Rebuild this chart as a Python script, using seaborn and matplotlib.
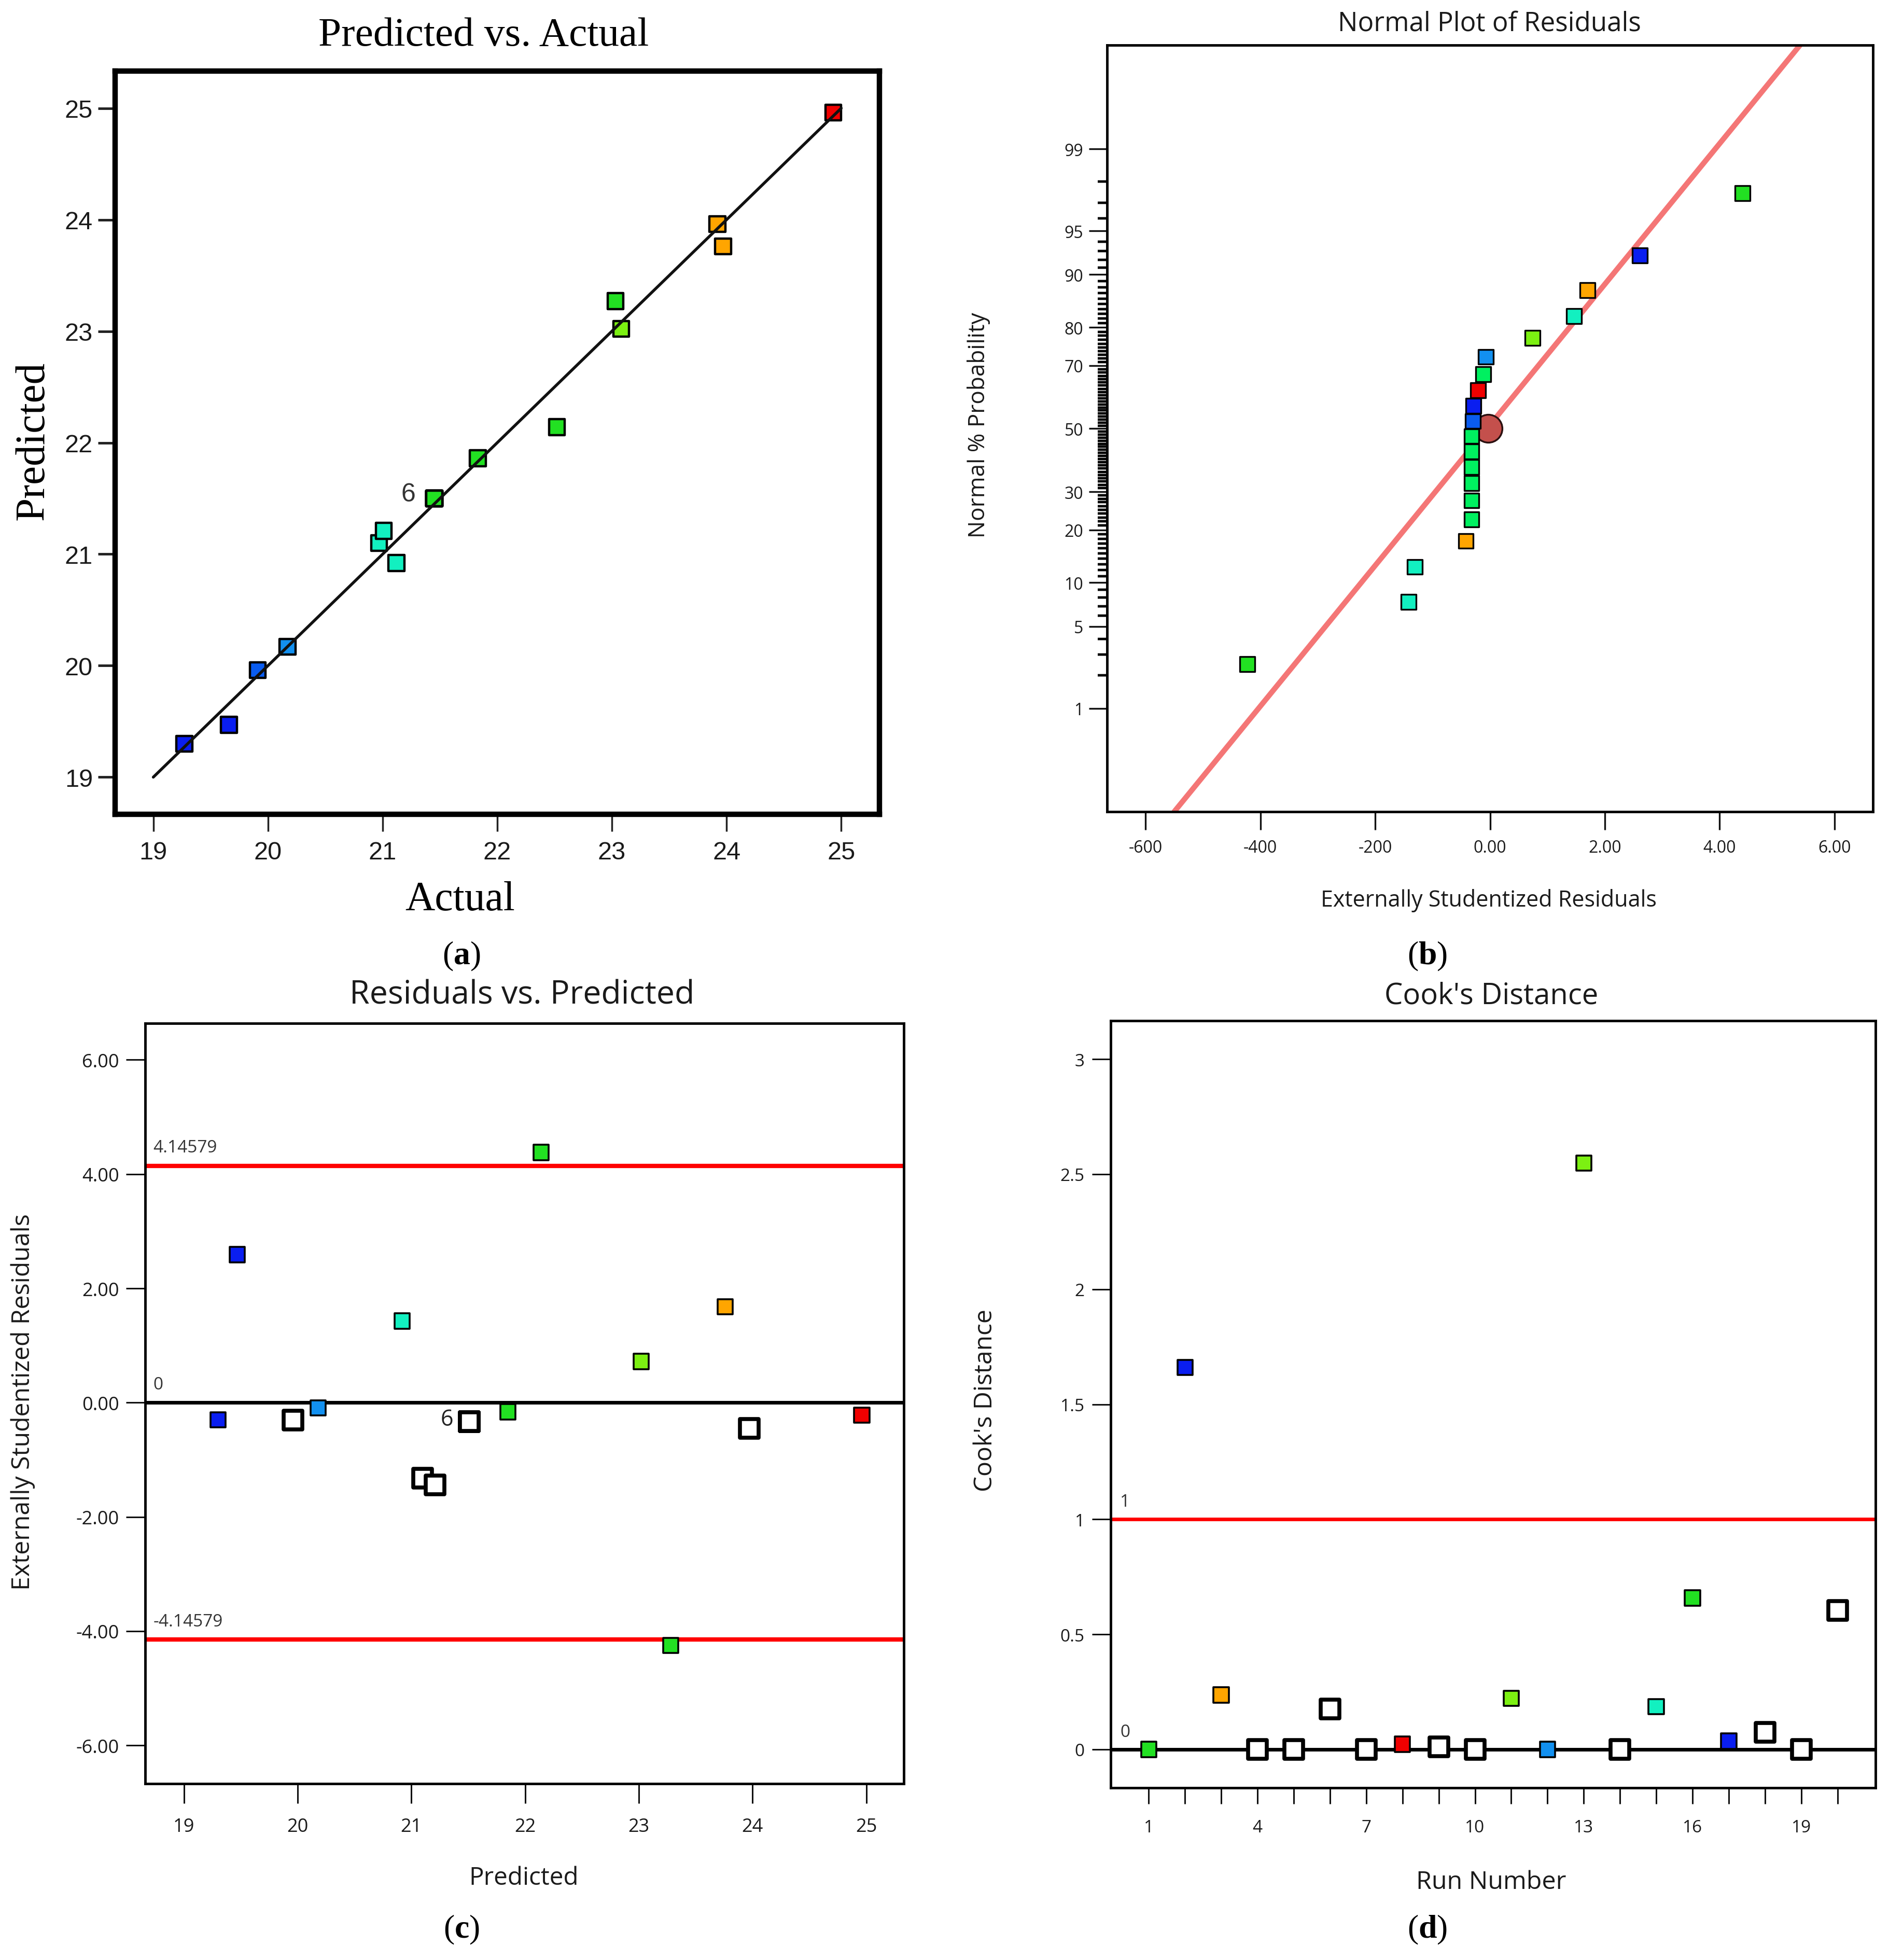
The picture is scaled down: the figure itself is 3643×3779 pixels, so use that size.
import numpy as np
import pandas as pd
import matplotlib
matplotlib.use("Agg")
import matplotlib.pyplot as plt
import seaborn as sns
from statistics import NormalDist
from matplotlib.ticker import NullFormatter

# ---------------- data ----------------
# (a) Predicted vs. Actual (run 6 group: six coincident points)
actual = [19.27, 19.66, 19.91, 20.17, 20.97, 21.01, 21.12,
          21.45, 21.45, 21.45, 21.45, 21.45, 21.45,
          21.83, 22.52, 23.03, 23.08, 23.92, 23.97, 24.93]
predicted = [19.30, 19.47, 19.96, 20.17, 21.10, 21.21, 20.92,
             21.50, 21.50, 21.50, 21.50, 21.50, 21.50,
             21.86, 22.14, 23.27, 23.02, 23.96, 23.76, 24.96]
a_groups = ["darkblue", "darkblue", "midblue", "lightblue", "teal", "teal", "teal",
            "green", "green", "green", "green", "green", "green",
            "green", "green", "green", "lime", "orange", "orange", "red"]
a_fit = [19, 25]

# (b) Normal plot of residuals
b_resid = [-4.23, -1.42, -1.31, -0.42, -0.32, -0.32, -0.32, -0.32, -0.32, -0.32,
           -0.30, -0.29, -0.21, -0.12, -0.07, 0.74, 1.46, 1.70, 2.61, 4.40]
b_pct = [2.5, 7.5, 12.5, 17.5, 22.5, 27.5, 32.5, 37.5, 42.5, 47.5,
         52.5, 57.5, 62.5, 67.5, 72.5, 77.5, 82.5, 87.5, 92.5, 97.5]
b_groups = ["green", "teal", "teal", "orange", "spring", "spring", "spring", "spring",
            "spring", "spring", "midblue", "darkblue", "red", "spring", "lightblue",
            "lime", "teal", "orange", "darkblue", "green"]
b_line_x = [-5.50, 5.40]
b_line_pct = [0.072, 99.929]
b_center_x = [-0.03]
b_center_pct = [50.0]
b_yticks = [1, 5, 10, 20, 30, 50, 70, 80, 90, 95, 99]
b_xticks = [-6, -4, -2, 0, 2, 4, 6]
b_xticklabels = ["-600", "-400", "-200", "0.00", "2.00", "4.00", "6.00"]

# (c) Residuals vs. Predicted
c_pred = [19.30, 19.47, 20.18, 20.92, 21.85, 22.14, 23.02, 23.28, 23.76, 24.96]
c_resid = [-0.30, 2.59, -0.09, 1.43, -0.16, 4.38, 0.72, -4.25, 1.68, -0.22]
c_groups = ["darkblue", "darkblue", "lightblue", "teal", "green", "green",
            "lime", "green", "orange", "red"]
c_hollow_pred = [19.96, 21.10, 21.21, 21.51, 21.51, 21.51, 21.51, 21.51, 21.51, 23.97]
c_hollow_resid = [-0.31, -1.32, -1.44, -0.335, -0.335, -0.335, -0.335, -0.335, -0.335, -0.45]
c_limit = 4.14579
c_yticks = [-6, -4, -2, 0, 2, 4, 6]
c_yticklabels = ["-6.00", "-4.00", "-2.00", "0.00", "2.00", "4.00", "6.00"]

# (d) Cook's distance
d_run = list(range(1, 21))
d_cook = [0.00, 1.66, 0.236, 0.00, 0.00, 0.175, 0.00, 0.022, 0.011, 0.00,
          0.222, 0.00, 2.548, 0.00, 0.186, 0.658, 0.036, 0.075, 0.00, 0.605]
d_groups = ["green", "darkblue", "orange", "none", "none", "none", "none", "red", "none", "none",
            "lime", "lightblue", "lime", "none", "teal", "green", "darkblue", "none", "none", "none"]
d_limit = 1.0
d_yticks = [0, 0.5, 1, 1.5, 2, 2.5, 3]
d_yticklabels = ["0", "0.5", "1", "1.5", "2", "2.5", "3"]
d_xticks = [1, 4, 7, 10, 13, 16, 19]

palette = {"darkblue": "#0A1EF0", "midblue": "#0A5CF0", "lightblue": "#1290F0",
           "teal": "#12F0C0", "spring": "#00F060", "green": "#22E022",
           "lime": "#7CF012", "orange": "#FFA500", "red": "#F00000"}

# ---------------- style ----------------
sns.set_style("ticks")
plt.rcParams["font.family"] = ["Open Sans", "DejaVu Sans"]
plt.rcParams["mathtext.fontset"] = "custom"
plt.rcParams["mathtext.rm"] = "Liberation Serif"
plt.rcParams["mathtext.bf"] = "Liberation Serif:bold"

W, H = 3643, 3780
fig = plt.figure(figsize=(W / 100, H / 100), dpi=100)
fig.patch.set_facecolor("white")
TXT = "#1a1a1a"


def add_axes(l, t, r, b):
    return fig.add_axes([l / W, 1 - b / H, (r - l) / W, (b - t) / H])


def place_text(x, y, s, target=None, size=30, rotation=0, **kw):
    t = fig.text(x / W, 1 - y / H, s, ha="center", va="center", fontsize=size,
                 rotation=rotation, color=kw.pop("color", TXT), **kw)
    if target:
        r = fig.canvas.get_renderer()
        bb = t.get_window_extent(renderer=r)
        cur = bb.height if rotation == 90 else bb.width
        t.set_fontsize(size * target / cur)
    return t


axA = add_axes(222, 138, 1696, 1571)
axB = add_axes(2135, 88, 3612, 1566)
axC = add_axes(280, 1974, 1743, 3440)
axD = add_axes(2142, 1969, 3617, 3448)

# ---------------- (a) ----------------
dfA = pd.DataFrame({"Actual": actual, "Predicted": predicted, "grp": a_groups})
sns.scatterplot(data=dfA, x="Actual", y="Predicted", hue="grp", palette=palette,
                marker="s", s=480, edgecolor="black", linewidth=3.2, legend=False,
                ax=axA, zorder=3)
sns.lineplot(x=a_fit, y=a_fit, color="#111111", lw=4, ax=axA, zorder=4)
axA.set_xlim(18.667, 25.333)
axA.set_ylim(18.667, 25.333)
axA.set_xticks(range(19, 26))
axA.set_yticks(range(19, 26))
for sp in axA.spines.values():
    sp.set_linewidth(7.5)
    sp.set_color("black")
axA.tick_params(axis="both", direction="out", length=24, width=2.5, color="#222222",
                labelsize=35, labelcolor=TXT)
axA.tick_params(axis="y", pad=7, width=3.5)
axA.tick_params(axis="x", pad=13)
for lab in axA.get_xticklabels() + axA.get_yticklabels():
    lab.set_fontfamily("Liberation Sans")
axA.set_xlabel("")
axA.set_ylabel("")
axA.annotate("6", xy=(21.45, 21.50), xytext=(-36, 6), textcoords="offset points",
             ha="center", va="center", fontsize=36, color="#333333",
             family="Liberation Sans")

# ---------------- (b) ----------------
nd = NormalDist()
_fwd = np.vectorize(lambda p: nd.inv_cdf(min(max(p / 100.0, 1e-12), 1 - 1e-12)), otypes=[float])
_inv = np.vectorize(lambda z: 100.0 * nd.cdf(z), otypes=[float])

dfB = pd.DataFrame({"resid": b_resid, "pct": b_pct, "grp": b_groups})
sns.lineplot(x=b_line_x, y=b_line_pct, color="#F47676", lw=7.5, ax=axB, zorder=2)
sns.scatterplot(x=b_center_x, y=b_center_pct, marker="o", s=1500, color="#C4504C",
                edgecolor="#2a1010", linewidth=2.5, ax=axB, zorder=2.5)
sns.scatterplot(data=dfB, x="resid", y="pct", hue="grp", palette=palette, marker="s",
                s=430, edgecolor="black", linewidth=2.4, legend=False, ax=axB, zorder=3)
axB.set_yscale("function", functions=(lambda p: _fwd(np.asarray(p, dtype=float)),
                                      lambda z: _inv(np.asarray(z, dtype=float))))
axB.set_ylim(0.072, 99.929)
axB.set_xlim(-6.67, 6.67)
axB.set_yticks(b_yticks)
axB.set_yticklabels([str(v) for v in b_yticks])
b_minor = [v for v in range(2, 99) if v not in b_yticks]
axB.set_yticks(b_minor, minor=True)
axB.yaxis.set_minor_formatter(NullFormatter())
# explicit comb of minor tick marks (percent scale) just outside the left spine
axB.hlines(b_minor, -0.0125, 0.0, transform=axB.get_yaxis_transform(), colors="black",
           lw=3.2, clip_on=False, zorder=5)
axB.set_xticks(b_xticks)
axB.set_xticklabels(b_xticklabels)
axB.tick_params(axis="both", which="major", direction="out", length=25, width=2.4,
                color="#111111", labelsize=23, labelcolor=TXT)
axB.tick_params(axis="y", which="minor", direction="out", length=13, width=3.2,
                color="black", left=True)
axB.tick_params(axis="y", which="major", pad=8)
axB.tick_params(axis="x", which="major", pad=13)
for sp in axB.spines.values():
    sp.set_linewidth(3.5)
    sp.set_color("black")
axB.set_ylim(0.072, 99.929)
axB.set_xlabel("")
axB.set_ylabel("")

# ---------------- (c) ----------------
dfC = pd.DataFrame({"pred": c_pred, "resid": c_resid, "grp": c_groups})
axC.axhline(c_limit, color="#FF0000", lw=6, zorder=2)
axC.axhline(-c_limit, color="#FF0000", lw=6, zorder=2)
axC.axhline(0, color="black", lw=5, zorder=2)
sns.scatterplot(data=dfC, x="pred", y="resid", hue="grp", palette=palette, marker="s",
                s=450, edgecolor="black", linewidth=2.6, legend=False, ax=axC, zorder=3)
sns.scatterplot(x=c_hollow_pred, y=c_hollow_resid, marker="s", s=640, color="white",
                edgecolor="black", linewidth=5.5, ax=axC, zorder=3)
axC.set_xlim(18.66, 25.33)
axC.set_ylim(-6.67, 6.64)
axC.set_xticks(range(19, 26))
axC.set_yticks(c_yticks)
axC.set_yticklabels(c_yticklabels)
axC.tick_params(axis="both", direction="out", length=27, width=2.2, color="#111111",
                labelsize=26, labelcolor=TXT)
axC.tick_params(axis="y", pad=9)
axC.tick_params(axis="x", pad=20)
for sp in axC.spines.values():
    sp.set_linewidth(3.5)
    sp.set_color("black")
axC.set_xlabel("")
axC.set_ylabel("")
for val, txt in [(c_limit, "4.14579"), (-c_limit, "-4.14579"), (0, "0")]:
    axC.annotate(txt, xy=(0, val), xycoords=("axes fraction", "data"), xytext=(11, 25),
                 textcoords="offset points", ha="left", va="center", fontsize=24,
                 color="#333333")
axC.annotate("6", xy=(21.51, -0.335), xytext=(-31, 3), textcoords="offset points",
             ha="center", va="center", fontsize=31, color="#222222")

# ---------------- (d) ----------------
dfD = pd.DataFrame({"run": d_run, "cook": d_cook, "grp": d_groups})
axD.axhline(d_limit, color="#FF0000", lw=5, zorder=2)
axD.axhline(0, color="black", lw=5, zorder=2)
filled = dfD[dfD["grp"] != "none"]
hollow = dfD[dfD["grp"] == "none"]
sns.scatterplot(data=filled, x="run", y="cook", hue="grp", palette=palette, marker="s",
                s=450, edgecolor="black", linewidth=2.6, legend=False, ax=axD, zorder=3)
sns.scatterplot(data=hollow, x="run", y="cook", marker="s", s=640, color="white",
                edgecolor="black", linewidth=5.5, ax=axD, zorder=3)
axD.set_xlim(-0.05, 21.05)
axD.set_ylim(-0.167, 3.167)
axD.set_xticks(d_xticks)
axD.set_xticks(list(range(1, 21)), minor=True)
axD.xaxis.set_minor_formatter(NullFormatter())
axD.set_yticks(d_yticks)
axD.set_yticklabels(d_yticklabels)
axD.tick_params(axis="both", which="both", direction="out", length=22, width=2.2,
                color="#111111", labelsize=24, labelcolor=TXT)
axD.tick_params(axis="y", length=26, pad=10)
axD.tick_params(axis="x", which="major", pad=21)
for sp in axD.spines.values():
    sp.set_linewidth(3.5)
    sp.set_color("black")
axD.set_xlabel("")
axD.set_ylabel("")
for val, txt in [(d_limit, "1"), (0, "0")]:
    axD.annotate(txt, xy=(0, val), xycoords=("axes fraction", "data"), xytext=(13, 24),
                 textcoords="offset points", ha="left", va="center", fontsize=24,
                 color="#333333")

# ---------------- texts ----------------
SERIF = ["Liberation Serif", "DejaVu Serif"]
place_text(933, 69, "Predicted vs. Actual", target=636, size=58, family=SERIF, color="black")
place_text(64, 850, "Predicted", target=306, size=58, rotation=90, family=SERIF, color="black")
place_text(887, 1736, "Actual", target=212, size=58, family=SERIF, color="black")

place_text(2872, 46, "Normal Plot of Residuals", target=586, size=32)
place_text(1888, 820, "Normal % Probability", target=434, size=28, rotation=90)
place_text(2871, 1737, "Externally Studentized Residuals", target=648, size=28)

place_text(1007, 1919, "Residuals vs. Predicted", target=665, size=36)
place_text(44, 2703, "Externally Studentized Residuals", target=728, size=30, rotation=90)
place_text(1010, 3621, "Predicted", target=212, size=30)

place_text(2876, 1921, "Cook's Distance", target=412, size=36)
place_text(1900, 2700, "Cook's Distance", target=352, size=30, rotation=90)
place_text(2876, 3629, "Run Number", target=289, size=30)

for x, y, l in [(890, 1844, "a"), (2753, 1844, "b"), (890, 3721, "c"), (2753, 3721, "d")]:
    place_text(x, y, "($\\mathbf{" + l + "}$)", size=46, family=SERIF, color="black")

fig.savefig("out.png", dpi=100, facecolor="white")
